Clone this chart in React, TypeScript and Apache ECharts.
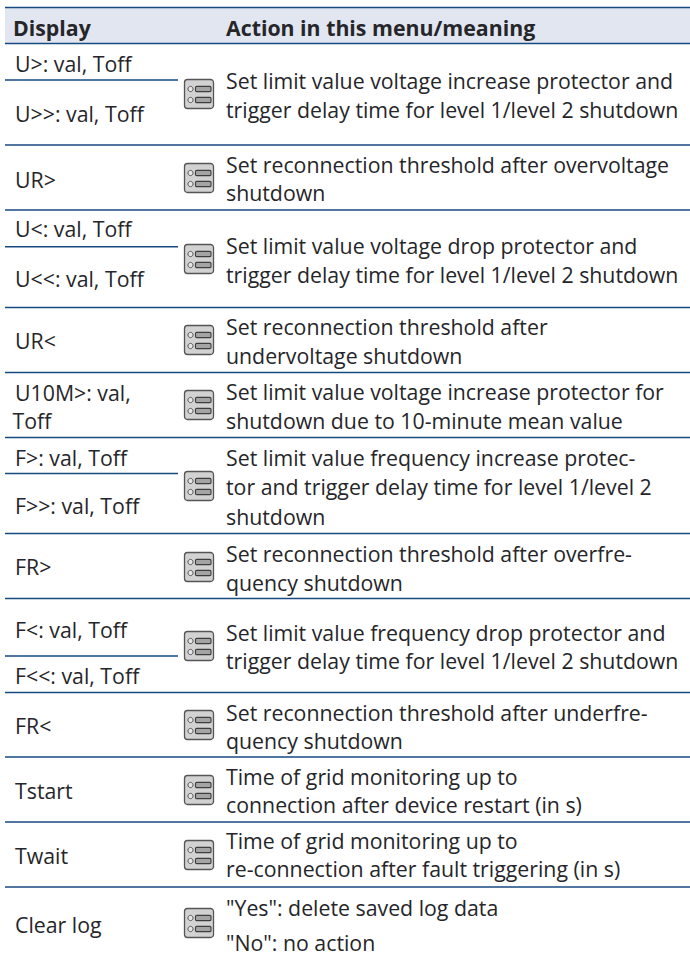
import React, { useEffect, useRef } from "react";
import * as echarts from "echarts";

const headerLabels = ["Display", "Action in this menu/meaning"];

const displayLabels = [
  "U>: val, Toff", "U>>: val, Toff", "UR>", "U<: val, Toff", "U<<: val, Toff", "UR<",
  "U10M>: val,", "Toff", "F>: val, Toff", "F>>: val, Toff", "FR>", "F<: val, Toff",
  "F<<: val, Toff", "FR<", "Tstart", "Twait", "Clear log",
];
const displayBaselines = [70.7, 120.7, 186.7, 236, 286, 348, 400, 427.7, 465, 512.7, 574, 636.7, 683, 733, 798, 863, 932];

const actionLines = [
  "Set limit value voltage increase protector and",
  "trigger delay time for level 1/level 2 shutdown",
  "Set reconnection threshold after overvoltage",
  "shutdown",
  "Set limit value voltage drop protector and",
  "trigger delay time for level 1/level 2 shutdown",
  "Set reconnection threshold after",
  "undervoltage shutdown",
  "Set limit value voltage increase protector for",
  "shutdown due to 10-minute mean value",
  "Set limit value frequency increase protec-",
  "tor and trigger delay time for level 1/level 2",
  "shutdown",
  "Set reconnection threshold after overfre-",
  "quency shutdown",
  "Set limit value frequency drop protector and",
  "trigger delay time for level 1/level 2 shutdown",
  "Set reconnection threshold after underfre-",
  "quency shutdown",
  "Time of grid monitoring up to",
  "connection after device restart (in s)",
  "Time of grid monitoring up to",
  "re-connection after fault triggering (in s)",
  "\"Yes\": delete saved log data",
  "\"No\": no action",
];
const actionBaselines = [88.5, 117, 171.7, 200.5, 253, 281.7, 334, 363, 399, 427.7, 465, 494, 524, 560.7, 590, 640, 668, 720, 748, 784, 812.5, 848, 876.5, 915, 950];

const fullRules = [7.5, 43.5, 145, 210, 307.5, 372.5, 437.5, 533.5, 598.5, 692.5, 757, 822, 887];
const subRules = [80, 246.7, 473.5, 656];
const iconTops = [79, 163, 244, 325, 390, 471, 552, 631, 710, 775, 840, 908];

const FONT = '"Open Sans"';
const SIZE = 21.3;
const TEXT = "#26262a";
const RULE = "#174a80";

function txt(text: string, x: number, base: number, weight = 400) {
  return {
    type: "text",
    x,
    y: base - SIZE * 0.36,
    silent: true,
    style: {
      text,
      fill: TEXT,
      font: `${weight} ${SIZE}px ${FONT}`,
      textAlign: "left",
      textVerticalAlign: "middle",
    },
  };
}

function icon(top: number) {
  const x = 184.5;
  const mk = (dy: number) => [
    { type: "circle", shape: { cx: x + 6, cy: top + dy, r: 2.6 }, style: { fill: "#e6e6e6", stroke: "#555", lineWidth: 1 } },
    { type: "rect", shape: { x: x + 11, y: top + dy - 2.6, width: 15.5, height: 5.2, r: 1.2 }, style: { fill: "#a4a4a4", stroke: "#3e3e3e", lineWidth: 1.1 } },
  ];
  return {
    type: "group",
    silent: true,
    children: [
      { type: "rect", shape: { x, y: top + 0.5, width: 29, height: 29, r: 3 }, style: { fill: "#d2d2d2", stroke: "#555", lineWidth: 1.3 } },
      ...mk(10),
      ...mk(21),
    ],
  };
}

function rule(y: number, x2: number) {
  return { type: "line", silent: true, shape: { x1: 5, y1: y, x2, y2: y }, style: { stroke: RULE, lineWidth: 1.4 } };
}

export default function App() {
  const ref = useRef<HTMLDivElement>(null);
  useEffect(() => {
    const chart = echarts.init(ref.current!, undefined, { renderer: "svg" });
    chart.setOption({
      animation: false,
      backgroundColor: "#ffffff",
      graphic: {
        elements: [
          { type: "rect", silent: true, shape: { x: 5, y: 7.5, width: 685, height: 36 }, style: { fill: "#e2e6f0" } },
          ...fullRules.map((y) => rule(y, 690)),
          ...subRules.map((y) => rule(y, 178)),
          txt(headerLabels[0], 13, 34.7, 700),
          txt(headerLabels[1], 226, 34.7, 700),
          ...displayLabels.map((t, i) => txt(t, t === "Toff" ? 12.5 : 15, displayBaselines[i])),
          ...actionLines.map((t, i) => txt(t, 226, actionBaselines[i])),
          ...iconTops.map(icon),
        ],
      },
    });
    return () => chart.dispose();
  }, []);
  return <div ref={ref} style={{ position: "absolute", left: 0, top: 0, width: 690, height: 957 }} />;
}
